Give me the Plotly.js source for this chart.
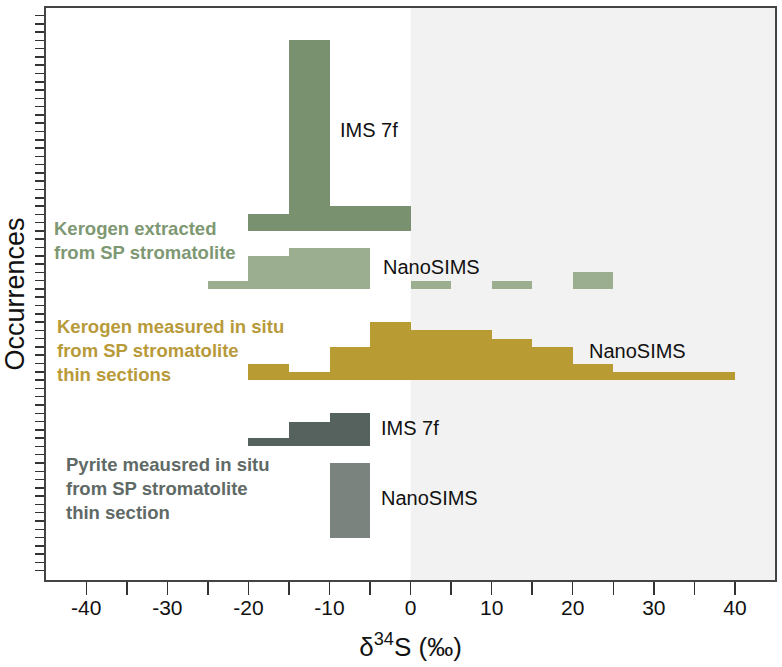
<!DOCTYPE html>
<html>
<head>
<meta charset="utf-8">
<script src="https://cdn.plot.ly/plotly-3.0.1.min.js"></script>
<style>html,body{margin:0;padding:0;background:#fff;}#chart{width:782px;height:667px;}</style>
</head>
<body>
<div id="chart"></div>
<script>
// Histogram bins (left edge of each 5‰ bin) and counts
const kerogenIMS_bins = [-20, -15, -10, -5];
const kerogenIMS_counts = [2, 23, 3, 3];
const kerogenNano_bins = [-25, -20, -15, -10, 0, 10, 20];
const kerogenNano_counts = [1, 4, 5, 5, 1, 1, 2];
const inSitu_bins = [-20, -15, -10, -5, 0, 5, 10, 15, 20, 25, 30, 35];
const inSitu_counts = [2, 1, 4, 7, 6, 6, 5, 4, 2, 1, 1, 1];
const pyriteIMS_bins = [-20, -15, -10];
const pyriteIMS_counts = [1, 3, 4];
const pyriteNano_bins = [-10];
const pyriteNano_counts = [9];
// vertical offsets (baseline of each stacked histogram, in occurrences)
const offsets = [41, 34, 23, 15, 4];
const seriesNames = ["Kerogen extracted – IMS 7f", "Kerogen extracted – NanoSIMS", "Kerogen in situ – NanoSIMS", "Pyrite in situ – IMS 7f", "Pyrite in situ – NanoSIMS"];
const xTickVals = [-40, -30, -20, -10, 0, 10, 20, 30, 40];
const xTickText = ["-40", "-30", "-20", "-10", "0", "10", "20", "30", "40"];
const binWidth = 5;

const colors = ["#7a9170", "#9bae90", "#b89b32", "#56625d", "#7b837f"];
const sets = [
  [kerogenIMS_bins, kerogenIMS_counts],
  [kerogenNano_bins, kerogenNano_counts],
  [inSitu_bins, inSitu_counts],
  [pyriteIMS_bins, pyriteIMS_counts],
  [pyriteNano_bins, pyriteNano_counts]
];

const traces = sets.map((s, i) => ({
  type: "bar",
  name: seriesNames[i],
  x: s[0].map(b => b + binWidth / 2),
  y: s[1],
  base: s[1].map(() => offsets[i]),
  width: s[0].map(() => binWidth),
  marker: {color: colors[i], line: {width: 0}},
  hoverinfo: "x+y",
  showlegend: false
}));

const dataFont = {family: "Liberation Sans, Arial, sans-serif", size: 20, color: "#111"};
const annotations = [
  {x: -9.0, y: 53.2, text: "IMS 7f"},
  {x: -3.7, y: 36.6, text: "NanoSIMS"},
  {x: 21.7, y: 26.5, text: "NanoSIMS"},
  {x: -3.9, y: 17.2, text: "IMS 7f"},
  {x: -3.9, y: 8.8, text: "NanoSIMS"}
].map(a => Object.assign(a, {xref: "x", yref: "y", xanchor: "left", yanchor: "middle", showarrow: false, font: dataFont}));

const groupLabels = [
  {x: -44.2, y: 39.8, text: "<b>Kerogen extracted<br>from SP stromatolite</b>", color: "#7e9873"},
  {x: -43.8, y: 26.6, text: "<b>Kerogen measured in situ<br>from SP stromatolite<br>thin sections</b>", color: "#b89a3a"},
  {x: -42.7, y: 9.9, text: "<b>Pyrite meausred in situ<br>from SP stromatolite<br>thin section</b>", color: "#5f6a66"}
];
groupLabels.forEach(g => annotations.push({
  x: g.x, y: g.y, xref: "x", yref: "y", xanchor: "left", yanchor: "middle", align: "left",
  showarrow: false, text: g.text,
  font: {family: "Liberation Sans, Arial, sans-serif", size: 18.5, color: g.color}
}));

const yTicks = [];
for (let i = 0; i <= 67; i++) yTicks.push(i);

const layout = {
  width: 782, height: 667,
  margin: {l: 46, r: 7, t: 8, b: 87},
  paper_bgcolor: "#ffffff",
  plot_bgcolor: "#ffffff",
  barmode: "overlay",
  bargap: 0,
  showlegend: false,
  xaxis: {
    range: [-44.97, 44.95],
    tickmode: "array", tickvals: xTickVals, ticktext: xTickText,
    ticks: "outside", ticklen: 13, tickwidth: 1.5, tickcolor: "#333",
    minor: {tickmode: "linear", tick0: -40, dtick: 5, ticks: "outside", ticklen: 13, tickwidth: 1.5, tickcolor: "#333", showgrid: false},
    ticklabelstandoff: -5,
    showline: true, linecolor: "#444", linewidth: 2, mirror: true,
    showgrid: false, zeroline: false,
    tickfont: {family: "Liberation Sans, Arial, sans-serif", size: 21, color: "#111"},
    title: {text: "δ<sup>34</sup>S (‰)", font: {family: "Liberation Sans, Arial, sans-serif", size: 26, color: "#111"}, standoff: 20}
  },
  yaxis: {
    range: [-1.12, 67.9],
    tickmode: "array", tickvals: yTicks, showticklabels: false,
    ticks: "outside", ticklen: 9, tickwidth: 1.5, tickcolor: "#333",
    showline: true, linecolor: "#444", linewidth: 2, mirror: true,
    showgrid: false, zeroline: false,
    title: {text: "Occurrences", font: {family: "Liberation Sans, Arial, sans-serif", size: 27, color: "#111"}, standoff: 4}
  },
  shapes: [{
    type: "rect", xref: "x", yref: "paper", x0: 0, x1: 44.95, y0: 0, y1: 1,
    fillcolor: "#f2f2f2", line: {width: 0}, layer: "below"
  }],
  annotations: annotations
};

Plotly.newPlot("chart", traces, layout, {displayModeBar: false, staticPlot: true});
</script>
</body>
</html>
